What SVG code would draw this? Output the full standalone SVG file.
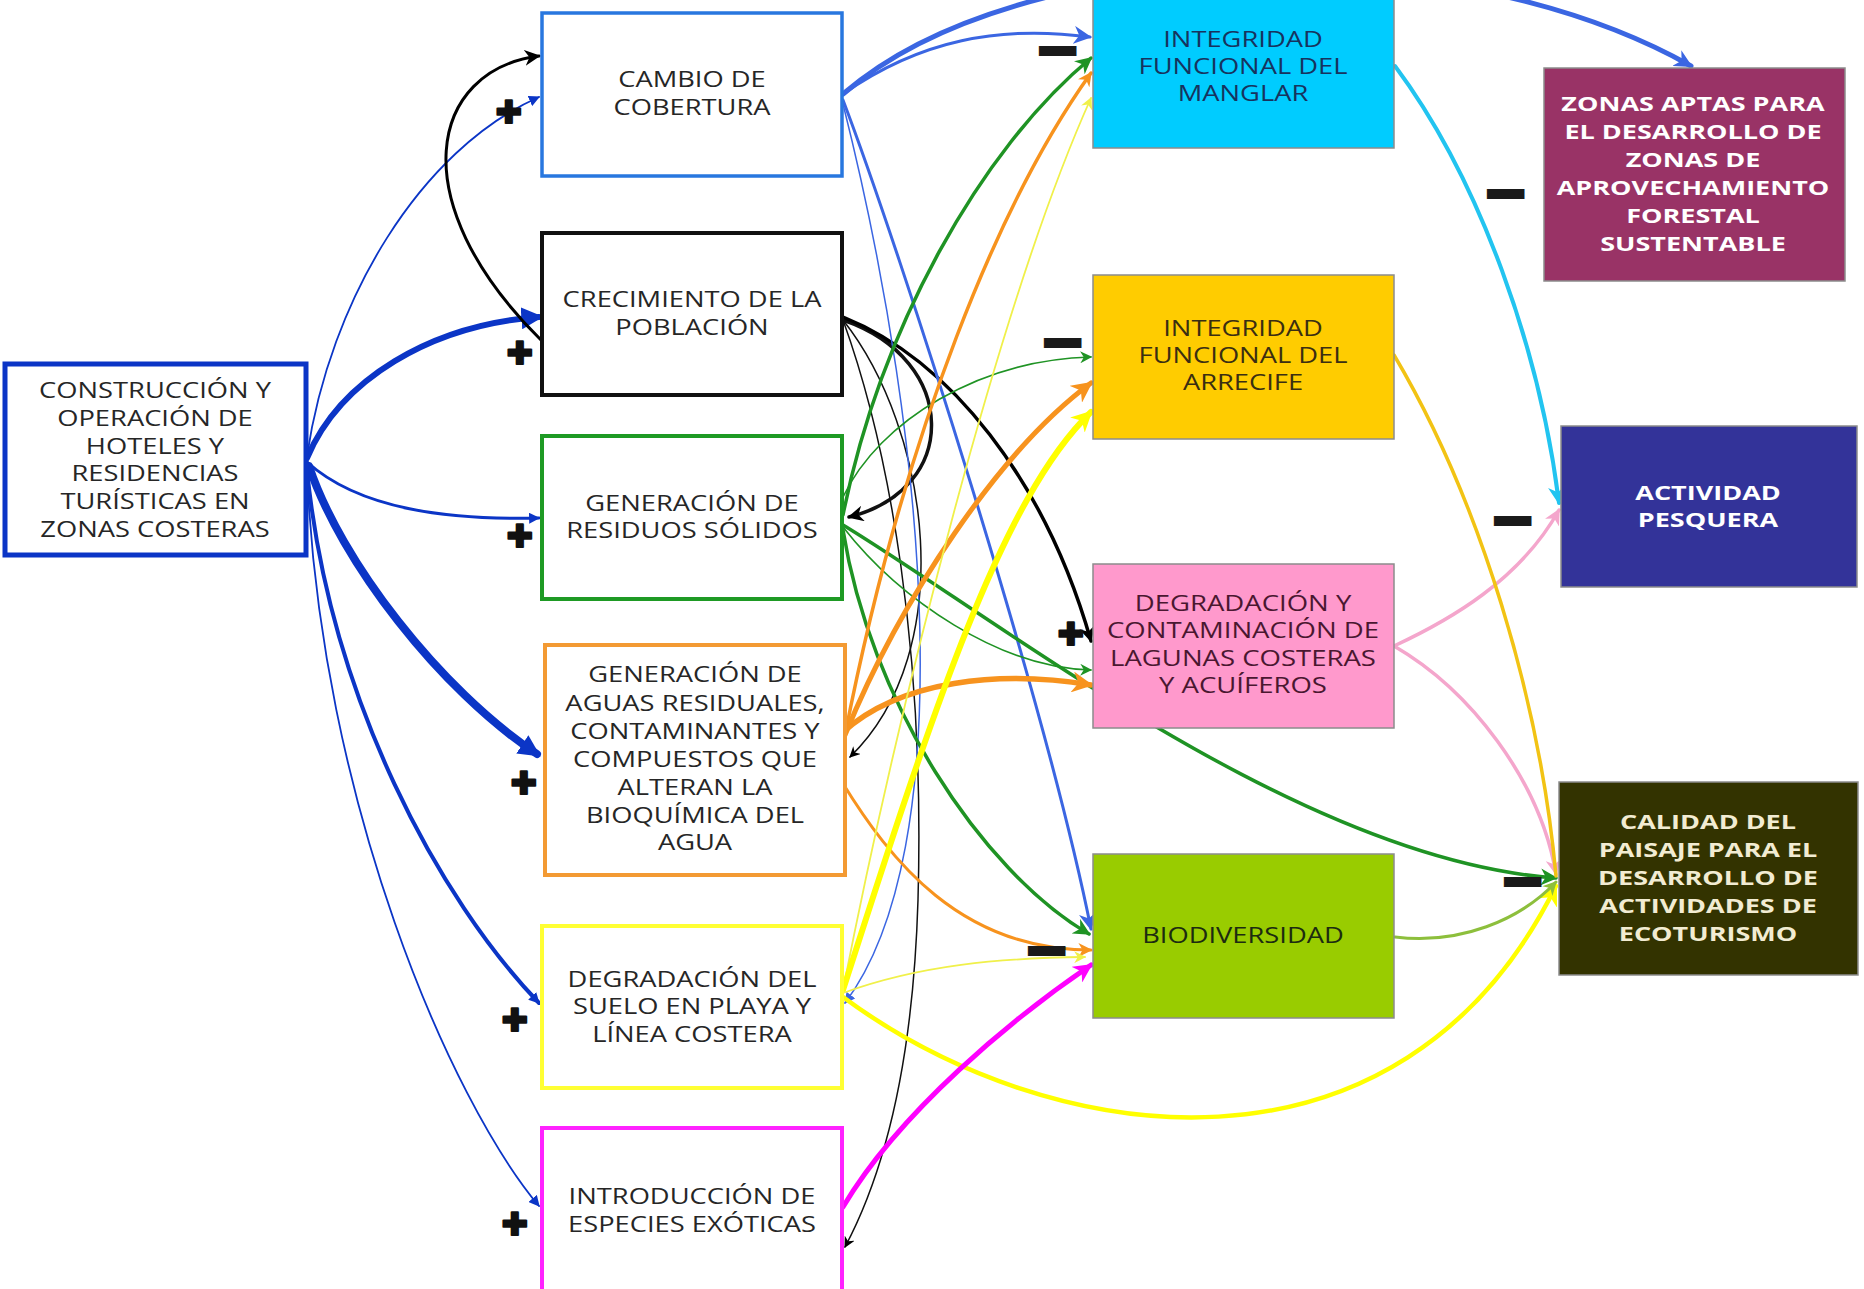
<svg xmlns="http://www.w3.org/2000/svg" width="1864" height="1289" viewBox="0 0 1864 1289">
<style>
.c{fill:none;stroke-linecap:round}
.tl{font-family:"Open Sans","Liberation Sans",sans-serif;font-size:21px;fill:#262626;text-anchor:middle}
.tr{font-family:"Open Sans","Liberation Sans",sans-serif;font-size:21px;text-anchor:middle}
.tb{font-family:"Open Sans","Liberation Sans",sans-serif;font-size:20px;font-weight:bold;text-anchor:middle}
.plus{font-family:"DejaVu Sans",sans-serif;font-size:31px;fill:#111;stroke:#111;stroke-width:2.2;stroke-linejoin:round;text-anchor:middle}
.minus{font-family:"DejaVu Sans",sans-serif;font-size:44px;fill:#1a1a1a;text-anchor:middle}
</style>
<defs>
<marker id="dk-s" viewBox="0 0 10 10" refX="9" refY="5" markerWidth="11" markerHeight="11" markerUnits="userSpaceOnUse" orient="auto"><path d="M0,0 L10,5 L0,10 z" fill="#0b35c6"/></marker>
<marker id="dk-l" viewBox="0 0 10 10" refX="8" refY="5" markerWidth="22" markerHeight="22" markerUnits="userSpaceOnUse" orient="auto"><path d="M0,0 L10,5 L0,10 z" fill="#0b35c6"/></marker>
<marker id="bk-s" viewBox="0 0 10 10" refX="9" refY="5" markerWidth="11" markerHeight="11" markerUnits="userSpaceOnUse" orient="auto"><path d="M0,0 L10,5 L0,10 L3,5 z" fill="#000"/></marker>
<marker id="bk-l" viewBox="0 0 10 10" refX="9" refY="5" markerWidth="16" markerHeight="16" markerUnits="userSpaceOnUse" orient="auto"><path d="M0,0 L10,5 L0,10 L3,5 z" fill="#000"/></marker>
<marker id="bl-s" viewBox="0 0 10 10" refX="9" refY="5" markerWidth="11" markerHeight="11" markerUnits="userSpaceOnUse" orient="auto"><path d="M0,0 L10,5 L0,10 z" fill="#3b66e2"/></marker>
<marker id="bl-l" viewBox="0 0 10 10" refX="9" refY="5" markerWidth="18" markerHeight="18" markerUnits="userSpaceOnUse" orient="auto"><path d="M0,0 L10,5 L0,10 L3,5 z" fill="#3b66e2"/></marker>
<marker id="gr-s" viewBox="0 0 10 10" refX="9" refY="5" markerWidth="12" markerHeight="12" markerUnits="userSpaceOnUse" orient="auto"><path d="M0,0 L10,5 L0,10 L3,5 z" fill="#1f9324"/></marker>
<marker id="gr-l" viewBox="0 0 10 10" refX="9" refY="5" markerWidth="17" markerHeight="17" markerUnits="userSpaceOnUse" orient="auto"><path d="M0,0 L10,5 L0,10 L3,5 z" fill="#1f9324"/></marker>
<marker id="or-s" viewBox="0 0 10 10" refX="9" refY="5" markerWidth="14" markerHeight="14" markerUnits="userSpaceOnUse" orient="auto"><path d="M0,0 L10,5 L0,10 L3,5 z" fill="#f7931e"/></marker>
<marker id="or-l" viewBox="0 0 10 10" refX="9" refY="5" markerWidth="21" markerHeight="21" markerUnits="userSpaceOnUse" orient="auto"><path d="M0,0 L10,5 L0,10 L3,5 z" fill="#f7931e"/></marker>
<marker id="yl-s" viewBox="0 0 10 10" refX="9" refY="5" markerWidth="12" markerHeight="12" markerUnits="userSpaceOnUse" orient="auto"><path d="M0,0 L10,5 L0,10 L3,5 z" fill="#f0f04a"/></marker>
<marker id="ye-l" viewBox="0 0 10 10" refX="9" refY="5" markerWidth="21" markerHeight="21" markerUnits="userSpaceOnUse" orient="auto"><path d="M0,0 L10,5 L0,10 L3,5 z" fill="#ffff00"/></marker>
<marker id="mg-l" viewBox="0 0 10 10" refX="9" refY="5" markerWidth="19" markerHeight="19" markerUnits="userSpaceOnUse" orient="auto"><path d="M0,0 L10,5 L0,10 L3,5 z" fill="#ff00ff"/></marker>
<marker id="cy-l" viewBox="0 0 10 10" refX="9" refY="5" markerWidth="18" markerHeight="18" markerUnits="userSpaceOnUse" orient="auto"><path d="M0,0 L10,5 L0,10 L3,5 z" fill="#22c4f0"/></marker>
<marker id="pk-l" viewBox="0 0 10 10" refX="9" refY="5" markerWidth="16" markerHeight="16" markerUnits="userSpaceOnUse" orient="auto"><path d="M0,0 L10,5 L0,10 L3,5 z" fill="#f4a6cc"/></marker>
<marker id="ol-l" viewBox="0 0 10 10" refX="9" refY="5" markerWidth="14" markerHeight="14" markerUnits="userSpaceOnUse" orient="auto"><path d="M0,0 L10,5 L0,10 L3,5 z" fill="#8dbf3c"/></marker>
</defs>
<rect x="0" y="0" width="1864" height="1289" fill="#ffffff"/>

<g id="connectors">
<!-- from CONSTRUCCION -->
<path class="c" d="M307,456 C330,300 420,150 539,97" stroke="#0b35c6" stroke-width="1.8" marker-end="url(#dk-s)"/>
<path class="c" d="M307,458 C340,380 430,325 539,317" stroke="#0b35c6" stroke-width="6" marker-end="url(#dk-l)"/>
<path class="c" d="M307,462 C360,510 450,520 539,518" stroke="#0b35c6" stroke-width="3" marker-end="url(#dk-s)"/>
<path class="c" d="M309,466 C340,560 440,690 537,754" stroke="#0b35c6" stroke-width="8" marker-end="url(#dk-l)"/>
<path class="c" d="M307,470 C330,700 440,900 539,1003" stroke="#0b35c6" stroke-width="4" marker-end="url(#dk-s)"/>
<path class="c" d="M307,470 C320,800 450,1100 539,1206" stroke="#0b35c6" stroke-width="1.8" marker-end="url(#dk-s)"/>
<!-- black from CRECIMIENTO -->
<path class="c" d="M541,340 C400,200 430,70 539,56" stroke="#000" stroke-width="3" marker-end="url(#bk-l)"/>
<path class="c" d="M843,320 C960,360 960,490 849,517" stroke="#111" stroke-width="3.5" marker-end="url(#bk-l)"/>
<path class="c" d="M843,317 C950,360 1045,480 1091,641" stroke="#000" stroke-width="3.5" marker-end="url(#bk-l)"/>
<path class="c" d="M843,320 C930,430 960,650 850,757" stroke="#111" stroke-width="1.5" marker-end="url(#bk-s)"/>
<path class="c" d="M843,320 C890,450 925,650 918,900 C912,1100 870,1200 845,1247" stroke="#111" stroke-width="1.5" marker-end="url(#bk-s)"/>
<!-- blue from CAMBIO -->
<path class="c" d="M843,94 C1020,-60 1450,-70 1691,66" stroke="#3b66e2" stroke-width="5" marker-end="url(#bl-l)"/>
<path class="c" d="M843,94 C920,40 1000,25 1090,37" stroke="#3b66e2" stroke-width="3" marker-end="url(#bl-l)"/>
<path class="c" d="M843,100 C900,250 1045,700 1091,929" stroke="#3b66e2" stroke-width="3" marker-end="url(#bl-l)"/>
<path class="c" d="M843,104 C930,450 960,850 845,1003" stroke="#3b66e2" stroke-width="1.5" marker-end="url(#bl-s)"/>
<!-- green from RESIDUOS -->
<path class="c" d="M843,515 C880,330 980,150 1091,58" stroke="#1f9324" stroke-width="3.5" marker-end="url(#gr-l)"/>
<path class="c" d="M843,497 C880,420 980,360 1091,357" stroke="#1f9324" stroke-width="1.6" marker-end="url(#gr-s)"/>
<path class="c" d="M843,527 C900,600 1000,668 1091,670" stroke="#1f9324" stroke-width="1.6" marker-end="url(#gr-s)"/>
<path class="c" d="M843,525 C1000,620 1300,860 1556,878" stroke="#1f9324" stroke-width="3.5" marker-end="url(#gr-l)"/>
<path class="c" d="M843,530 C870,700 980,870 1089,934" stroke="#1f9324" stroke-width="3.5" marker-end="url(#gr-l)"/>
<!-- orange from AGUAS -->
<path class="c" d="M845,735 C905,430 1000,200 1091,73" stroke="#f7931e" stroke-width="3.5" marker-end="url(#or-s)"/>
<path class="c" d="M845,735 C900,600 1000,450 1091,383" stroke="#f7931e" stroke-width="5" marker-end="url(#or-l)"/>
<path class="c" d="M842,733 C900,680 1000,670 1091,685" stroke="#f7931e" stroke-width="5.5" marker-end="url(#or-l)"/>
<path class="c" d="M842,782 C890,860 960,950 1091,950" stroke="#f7931e" stroke-width="3" marker-end="url(#or-s)"/>
<!-- yellow from SUELO -->
<path class="c" d="M843,990 C900,700 1000,300 1091,98" stroke="#f0f04a" stroke-width="1.8" marker-end="url(#yl-s)"/>
<path class="c" d="M843,990 C930,720 1000,500 1091,412" stroke="#ffff00" stroke-width="6" marker-end="url(#ye-l)"/>
<path class="c" d="M843,993 C920,965 1000,958 1085,957" stroke="#f0f04a" stroke-width="1.8" marker-end="url(#yl-s)"/>
<path class="c" d="M843,997 C1050,1150 1400,1200 1556,886" stroke="#ffff00" stroke-width="4.5" marker-end="url(#ye-l)"/>
<!-- magenta from INTRODUCCION -->
<path class="c" d="M843,1207 C900,1111 1013,1018 1091,965" stroke="#ff00ff" stroke-width="5" marker-end="url(#mg-l)"/>
<!-- right side -->
<path class="c" d="M1395,66 C1480,180 1540,350 1559,503" stroke="#22c4f0" stroke-width="4" marker-end="url(#cy-l)"/>
<path class="c" d="M1394,646 C1450,620 1520,580 1559,510" stroke="#f4a6cc" stroke-width="3.5" marker-end="url(#pk-l)"/>
<path class="c" d="M1394,646 C1470,690 1540,780 1556,874" stroke="#f4a6cc" stroke-width="3.5" marker-end="url(#pk-l)"/>
<path class="c" d="M1394,355 C1480,500 1540,700 1556,876" stroke="#f2c314" stroke-width="3.5"/>
<path class="c" d="M1395,937 C1460,945 1520,920 1556,882" stroke="#8dbf3c" stroke-width="3" marker-end="url(#ol-l)"/>
</g>

<g id="n1"><rect x="5" y="364" width="301" height="191" fill="#fff" stroke="#0b35c6" stroke-width="5"/>
<text class="tl" transform="matrix(1.3 0 0 1 155 0)"><tspan x="0" y="398">CONSTRUCCIÓN Y</tspan><tspan x="0" y="426">OPERACIÓN DE</tspan><tspan x="0" y="454">HOTELES Y</tspan><tspan x="0" y="481">RESIDENCIAS</tspan><tspan x="0" y="509">TURÍSTICAS EN</tspan><tspan x="0" y="537">ZONAS COSTERAS</tspan></text></g>

<g id="n2"><rect x="542" y="13" width="300" height="163" fill="#fff" stroke="#2877df" stroke-width="3.5"/>
<text class="tl" transform="matrix(1.3 0 0 1 692 0)"><tspan x="0" y="87">CAMBIO DE</tspan><tspan x="0" y="115">COBERTURA</tspan></text></g>

<g id="n3"><rect x="542" y="233" width="300" height="162" fill="#fff" stroke="#111" stroke-width="4"/>
<text class="tl" transform="matrix(1.3 0 0 1 692 0)"><tspan x="0" y="307">CRECIMIENTO DE LA</tspan><tspan x="0" y="335">POBLACIÓN</tspan></text></g>

<g id="n4"><rect x="542" y="436" width="300" height="163" fill="#fff" stroke="#1e9a24" stroke-width="4"/>
<text class="tl" transform="matrix(1.3 0 0 1 692 0)"><tspan x="0" y="511">GENERACIÓN DE</tspan><tspan x="0" y="538">RESIDUOS SÓLIDOS</tspan></text></g>

<g id="n5"><rect x="545" y="645" width="300" height="230" fill="#fff" stroke="#f39a33" stroke-width="4"/>
<text class="tl" transform="matrix(1.3 0 0 1 695 0)"><tspan x="0" y="682">GENERACIÓN DE</tspan><tspan x="0" y="711">AGUAS RESIDUALES,</tspan><tspan x="0" y="739">CONTAMINANTES Y</tspan><tspan x="0" y="767">COMPUESTOS QUE</tspan><tspan x="0" y="795">ALTERAN LA</tspan><tspan x="0" y="823">BIOQUÍMICA DEL</tspan><tspan x="0" y="850">AGUA</tspan></text></g>

<g id="n6"><rect x="542" y="926" width="300" height="162" fill="#fff" stroke="#ffff33" stroke-width="4"/>
<text class="tl" transform="matrix(1.3 0 0 1 692 0)"><tspan x="0" y="987">DEGRADACIÓN DEL</tspan><tspan x="0" y="1014">SUELO EN PLAYA Y</tspan><tspan x="0" y="1042">LÍNEA COSTERA</tspan></text></g>

<g id="n7"><rect x="542" y="1128" width="300" height="190" fill="#fff" stroke="#ff22ff" stroke-width="4"/>
<text class="tl" transform="matrix(1.3 0 0 1 692 0)"><tspan x="0" y="1204">INTRODUCCIÓN DE</tspan><tspan x="0" y="1232">ESPECIES EXÓTICAS</tspan></text></g>

<g id="n8"><rect x="1093" y="-5" width="301" height="153" fill="#00ccff" stroke="#8c8c8c" stroke-width="1.5"/>
<text class="tr" fill="#17335e" transform="matrix(1.3 0 0 1 1243 0)"><tspan x="0" y="47">INTEGRIDAD</tspan><tspan x="0" y="74">FUNCIONAL DEL</tspan><tspan x="0" y="101">MANGLAR</tspan></text></g>

<g id="n9"><rect x="1093" y="275" width="301" height="164" fill="#ffcc00" stroke="#8c8c8c" stroke-width="1.5"/>
<text class="tr" fill="#3a2e12" transform="matrix(1.3 0 0 1 1243 0)"><tspan x="0" y="336">INTEGRIDAD</tspan><tspan x="0" y="363">FUNCIONAL DEL</tspan><tspan x="0" y="390">ARRECIFE</tspan></text></g>

<g id="n10"><rect x="1093" y="564" width="301" height="164" fill="#ff99cc" stroke="#8c8c8c" stroke-width="1.5"/>
<text class="tr" fill="#4a1730" transform="matrix(1.31 0 0 1 1243 0)"><tspan x="0" y="611">DEGRADACIÓN Y</tspan><tspan x="0" y="638">CONTAMINACIÓN DE</tspan><tspan x="0" y="666">LAGUNAS COSTERAS</tspan><tspan x="0" y="693">Y ACUÍFEROS</tspan></text></g>

<g id="n11"><rect x="1093" y="854" width="301" height="164" fill="#99cc00" stroke="#8c8c8c" stroke-width="1.5"/>
<text class="tr" fill="#1c2b10" transform="matrix(1.3 0 0 1 1243 0)"><tspan x="0" y="943">BIODIVERSIDAD</tspan></text></g>

<g id="n12"><rect x="1544" y="68" width="301" height="213" fill="#993366" stroke="#8c8c8c" stroke-width="1.5"/>
<text class="tb" fill="#ffffff" transform="matrix(1.35 0 0 1 1693 0)"><tspan x="0" y="111">ZONAS APTAS PARA</tspan><tspan x="0" y="139">EL DESARROLLO DE</tspan><tspan x="0" y="167">ZONAS DE</tspan><tspan x="0" y="195">APROVECHAMIENTO</tspan><tspan x="0" y="223">FORESTAL</tspan><tspan x="0" y="251">SUSTENTABLE</tspan></text></g>

<g id="n13"><rect x="1561" y="426" width="296" height="161" fill="#333399" stroke="#8c8c8c" stroke-width="1.5"/>
<text class="tb" fill="#ffffff" transform="matrix(1.35 0 0 1 1708 0)"><tspan x="0" y="500">ACTIVIDAD</tspan><tspan x="0" y="527">PESQUERA</tspan></text></g>

<g id="n14"><rect x="1559" y="782" width="299" height="193" fill="#333300" stroke="#8c8c8c" stroke-width="1.5"/>
<text class="tb" fill="#f2ecd2" transform="matrix(1.35 0 0 1 1708 0)"><tspan x="0" y="829">CALIDAD DEL</tspan><tspan x="0" y="857">PAISAJE PARA EL</tspan><tspan x="0" y="885">DESARROLLO DE</tspan><tspan x="0" y="913">ACTIVIDADES DE</tspan><tspan x="0" y="941">ECOTURISMO</tspan></text></g>

<g id="signs">
<text class="plus" x="509" y="123">✚</text>
<text class="plus" x="520" y="364">✚</text>
<text class="plus" x="520" y="547">✚</text>
<text class="plus" x="524" y="794">✚</text>
<text class="plus" x="515" y="1031">✚</text>
<text class="plus" x="515" y="1235">✚</text>
<text class="plus" x="1071" y="645">✚</text>
<text class="minus" transform="matrix(1.12 0 0 0.62 1058 58)">▬</text>
<text class="minus" transform="matrix(1.12 0 0 0.62 1063 350)">▬</text>
<text class="minus" transform="matrix(1.12 0 0 0.62 1506 201)">▬</text>
<text class="minus" transform="matrix(1.12 0 0 0.62 1513 528)">▬</text>
<text class="minus" transform="matrix(1.12 0 0 0.62 1523 889)">▬</text>
<text class="minus" transform="matrix(1.12 0 0 0.62 1047 958)">▬</text>
</g>
</svg>
